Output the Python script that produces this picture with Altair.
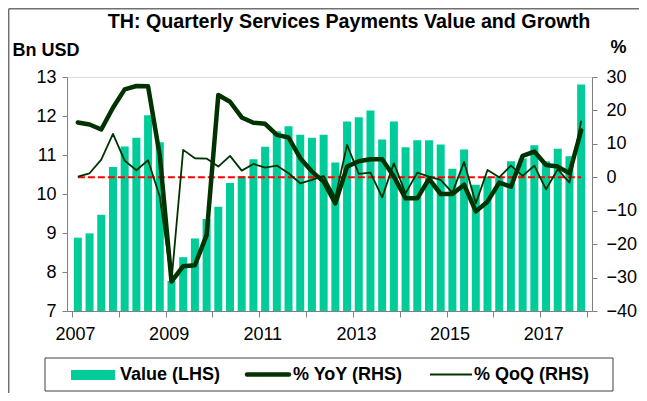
import altair as alt
import pandas as pd

years = [2007, 2008, 2009, 2010, 2011, 2012, 2013, 2014, 2015, 2016, 2017]
quarters = [f"{y}Q{q}" for y in years for q in (1, 2, 3, 4)]
year_labels = ["2007", "2009", "2011", "2013", "2015", "2017"]

value = [8.88, 8.99, 9.47, 10.69, 11.22, 11.44, 12.02, 11.33,
         7.77, 8.38, 8.86, 9.36, 9.67, 10.28, 10.46, 10.89,
         11.21, 11.61, 11.74, 11.52, 11.44, 11.52, 10.81, 11.86,
         11.97, 12.14, 11.40, 11.86, 11.20, 11.38, 11.38, 11.27,
         10.65, 11.14, 10.24, 10.45, 10.45, 10.84, 10.91, 11.25,
         10.84, 11.16, 10.97, 12.81]
yoy = [16.4, 15.8, 14.3, 20.8, 26.3, 27.3, 27.2, 6.5,
       -31.2, -26.6, -26.3, -17.3, 24.6, 22.6, 17.9, 16.3,
       16.0, 12.7, 11.9, 5.7, 1.7, -1.3, -7.8, 3.2,
       4.8, 5.4, 5.4, 0.2, -6.3, -6.3, -0.5, -5.0,
       -5.0, -2.2, -10.2, -7.3, -1.6, -2.8, 6.4, 7.7,
       3.7, 3.2, 1.2, 14.0]
qoq = [0.2, 1.2, 5.3, 13.0, 5.0, 2.1, 5.1, -5.8,
       -31.0, 8.2, 5.7, 5.6, 3.2, 6.4, 2.0, 4.0,
       2.9, 3.5, 1.2, -1.8, -0.8, 0.4, -6.0, 9.7,
       1.0, 1.4, -6.0, 4.2, -4.8, 1.4, 0.2, -0.8,
       -4.6, 4.6, -7.8, 2.2, 0.0, 3.5, 0.4, 3.5,
       -3.6, 2.4, -1.6, 16.9]

title_text = "TH: Quarterly Services Payments Value and Growth"
legend_labels = ["Value (LHS)", "% YoY (RHS)", "% QoQ (RHS)"]

df = pd.DataFrame({"quarter": quarters, "value": value, "yoy": yoy, "qoq": qoq})
df["pos"] = df.index + 0.5
n = len(df)
zero_df = pd.DataFrame({"start": [df["pos"].iloc[0]], "end": [df["pos"].iloc[-1]], "zero": [0]})

FONT = "Liberation Sans"
AX = "#808080"
BAR = "#00CC99"
LINE = "#003300"
W, H = 525, 234
LEFT_MIN, LEFT_MAX = 7, 13

# x axis labels every two years, ticks every year
expr = "''"
for lab in reversed(year_labels):
    v = (int(lab) - years[0]) * 4
    expr = f"datum.value == {v} ? '{lab}' : ({expr})"

xscale = alt.Scale(domain=[0, n], nice=False, zero=False)
xaxis = alt.Axis(values=list(range(0, n + 1, 4)), labelExpr=expr, title=None,
                 grid=False, tickSize=6, labelPadding=8, labelOffset=3,
                 labelFlush=False, labelFontSize=18, labelFont=FONT,
                 domainColor=AX, tickColor=AX, labelColor="black")

left_axis = alt.Axis(orient="left", values=list(range(LEFT_MIN, LEFT_MAX + 1)), grid=False,
                     tickSize=5, labelPadding=6, labelFontSize=18, labelFont=FONT,
                     domainColor=AX, tickColor=AX, labelColor="black",
                     title="Bn USD", titleAngle=0, titleX=-55, titleY=-27,
                     titleAlign="left", titleBaseline="middle", titleFontSize=18,
                     titleFont=FONT, titleFontWeight="bold", titleColor="black")
right_scale = alt.Scale(domain=[-40, 30], nice=False, zero=False)
right_axis = alt.Axis(orient="right", values=list(range(-40, 31, 10)), grid=False,
                      tickSize=5, labelPadding=9, labelFontSize=18, labelFont=FONT,
                      domainColor=AX, tickColor=AX, labelColor="black",
                      title="%", titleAngle=0, titleX=26, titleY=-30,
                      titleAlign="center", titleBaseline="middle", titleFontSize=18,
                      titleFont=FONT, titleFontWeight="bold", titleColor="black")

bars = alt.Chart(df).mark_bar(size=8, color=BAR).encode(
    x=alt.X("pos:Q", scale=xscale, axis=xaxis),
    y=alt.Y("value:Q", scale=alt.Scale(domain=[LEFT_MIN, LEFT_MAX], nice=False, zero=False), axis=left_axis),
    y2=alt.datum(LEFT_MIN),
)

zero_line = alt.Chart(zero_df).mark_rule(color="#FF0000", strokeWidth=2, strokeDash=[7, 3]).encode(
    x=alt.X("start:Q", scale=xscale, axis=xaxis),
    x2="end:Q",
    y=alt.Y("zero:Q", scale=right_scale, axis=right_axis),
)
qoq_line = alt.Chart(df).mark_line(color=LINE, strokeWidth=1.8, strokeJoin="round").encode(
    x=alt.X("pos:Q", scale=xscale, axis=xaxis),
    y=alt.Y("qoq:Q", scale=right_scale, axis=right_axis),
)
yoy_line = alt.Chart(df).mark_line(color=LINE, strokeWidth=4.5, strokeJoin="round", strokeCap="round").encode(
    x=alt.X("pos:Q", scale=xscale, axis=xaxis),
    y=alt.Y("yoy:Q", scale=right_scale, axis=right_axis),
)
right = alt.layer(zero_line, qoq_line, yoy_line)

one = pd.DataFrame({"t": [title_text]})
title = alt.Chart(one).mark_text(font=FONT, fontSize=19.7, fontWeight="bold", align="center",
                                  baseline="middle", color="black").encode(
    text="t:N", x=alt.value(282), y=alt.value(-55))

leg = pd.DataFrame({"t": legend_labels})
box = alt.Chart(one).mark_rect(fillOpacity=0, stroke="#404040", strokeWidth=1).encode(
    x=alt.value(-22), x2=alt.value(546), y=alt.value(281), y2=alt.value(314))
sw_bar = alt.Chart(one).mark_rect(color=BAR).encode(
    x=alt.value(4), x2=alt.value(48), y=alt.value(293), y2=alt.value(303))
sw_yoy = alt.Chart(one).mark_rule(color=LINE, strokeWidth=4.5, strokeCap="round").encode(
    x=alt.value(180), x2=alt.value(222), y=alt.value(297.5))
sw_qoq = alt.Chart(one).mark_rule(color=LINE, strokeWidth=1.8).encode(
    x=alt.value(363), x2=alt.value(405), y=alt.value(297.5))
leg_text = alt.layer(*[
    alt.Chart(leg.iloc[[i]]).mark_text(font=FONT, fontSize=18, fontWeight="bold", align="left",
                                         baseline="middle", color="black").encode(
        text="t:N", x=alt.value(xp), y=alt.value(298))
    for i, xp in enumerate([53, 226, 407])
])
frame_l = alt.Chart(one).mark_rule(color="#707070", strokeWidth=1.5).encode(
    x=alt.value(-58.3), y=alt.value(-68.3), y2=alt.value(330))
frame_t = alt.Chart(one).mark_rule(color="#707070", strokeWidth=1.5).encode(
    x=alt.value(-58.3), x2=alt.value(580), y=alt.value(-68.3))

chart = alt.layer(bars, right, title, box, sw_bar, sw_yoy, sw_qoq, leg_text, frame_l, frame_t).resolve_scale(
    y="independent"
).properties(
    width=W, height=H,
    autosize=alt.AutoSizeParams(type="none"),
    padding={"left": 59, "top": 69, "right": 47, "bottom": 82},
).configure_view(strokeWidth=0).configure(background="white")

chart.save("out.html", embed_options={"renderer": "svg", "actions": False})
